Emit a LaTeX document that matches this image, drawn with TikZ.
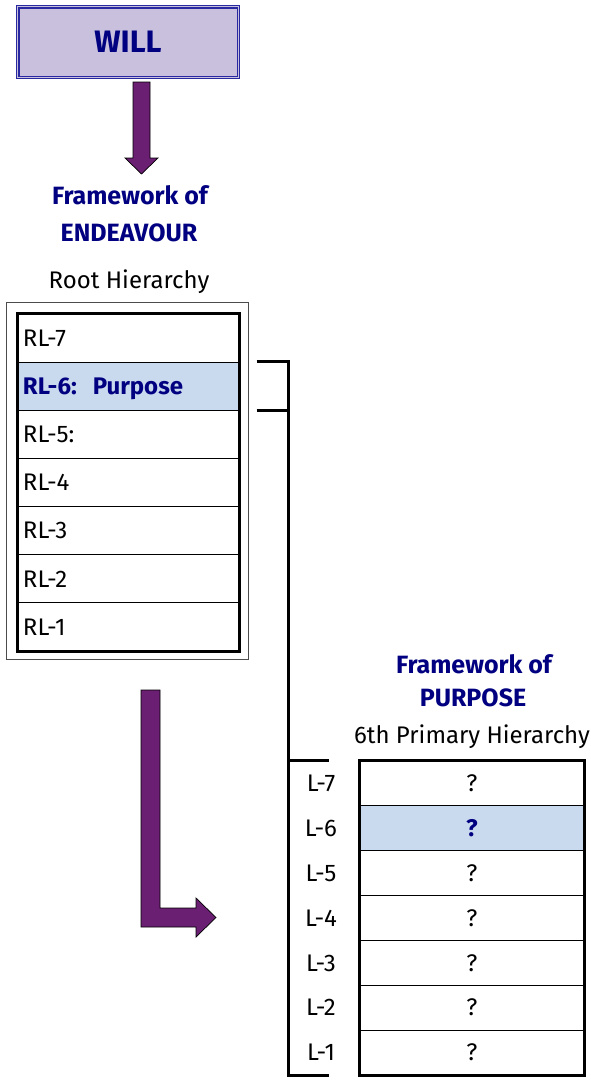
\documentclass[tikz,border=0pt]{standalone}
\usepackage{fontspec}
\setmainfont{Fira Sans}
\usetikzlibrary{calc}
\definecolor{navy}{RGB}{0,0,128}
\definecolor{willfill}{RGB}{200,192,220}
\definecolor{willline}{RGB}{40,40,160}
\definecolor{arrowpurple}{RGB}{106,31,114}
\definecolor{hilite}{RGB}{201,217,238}
\newcommand{\fsz}{\fontsize{24}{28}\selectfont}
\newcommand{\bfsz}{\bfseries\fontsize{25}{29}\selectfont}
\tikzset{
  txt/.style={inner sep=0pt, anchor=base, font=\fsz},
  ttl/.style={inner sep=0pt, anchor=base, text=navy, font=\bfsz},
  rlrow/.style={draw=black, line width=1pt, minimum width=221pt, minimum height=48.14pt,
    text width=211pt, align=left, inner xsep=5pt, inner ysep=0pt, text height=16.5pt, text depth=0pt,
    font=\fsz},
  lrow/.style={draw=black, line width=1pt, minimum width=224pt, minimum height=44.86pt,
    inner sep=0pt, text height=16.5pt, text depth=0pt, font=\fsz},
  lab/.style={inner sep=0pt, text height=16.5pt, text depth=0pt, font=\fsz},
  bigarrow/.style={fill=arrowpurple, draw=black, line width=0.7pt, line join=miter},
  brk/.style={line width=2.6pt, black}
}
\begin{document}
\begin{tikzpicture}[x=1pt,y=-1pt]
\useasboundingbox (0,0) rectangle (590,1084);
\fill[white] (0,0) rectangle (590,1084);

% WILL box
\node[draw=willline, line width=1.2pt, fill=willfill, minimum width=223pt, minimum height=73pt,
      inner sep=0pt, text=navy, font=\bfseries\fontsize{31}{35}\selectfont] (will) at (128,42) {WILL};
\draw[willline, line width=1.2pt] ([shift={(3,3)}]will.north west) rectangle ([shift={(-3,-3)}]will.south east);

% down arrow
\draw[bigarrow] (133,82) -- (150,82) -- (150,158) -- (158,158) -- (141.5,174) -- (125,158) -- (133,158) -- cycle;

% titles
\node[ttl] (fe1) at (130,204) {Framework of};
\node[ttl] (fe2) at (129,241) {ENDEAVOUR};
\node[txt] (rh) at (129,288) {Root Hierarchy};

% root hierarchy rows
\foreach \k/\t in {0/RL-7,2/RL-5:,3/RL-4,4/RL-3,5/RL-2,6/RL-1}{
  \node[rlrow] (rl\k) at (128.5,{314+48.14*(\k+0.5)}) {\t};
}
\node[rlrow, fill=hilite, text=navy, font=\bfseries\fsz] (rl1) at (128.5,{314+48.14*1.5}) {RL-6:\ \ Purpose};
\draw[line width=3pt] (rl0.north west) rectangle (rl6.south east);
\draw[black!70, line width=1pt] ([shift={(-11,-11)}]rl0.north west) rectangle ([shift={(9,8)}]rl6.south east);

% bottom titles
\node[ttl] (fp1) at (474,673) {Framework of};
\node[ttl] (fp2) at (473,706) {PURPOSE};
\node[txt] (ph) at (472,743) {6th Primary Hierarchy};

% primary hierarchy rows
\foreach \k/\n in {0/7,2/5,3/4,4/3,5/2,6/1}{
  \node[lrow] (p\k) at (472,{761+44.86*(\k+0.5)}) {?};
  \node[lab] (l\k) at (321,{761+44.86*(\k+0.5)}) {L-\n};
}
\node[lrow, fill=hilite, text=navy, font=\bfseries\fsz] (p1) at (472,{761+44.86*1.5}) {?};
\node[lab] (l1) at (321,{761+44.86*1.5}) {L-6};
\draw[line width=3.5pt] (p0.north west) rectangle (p6.south east);

% bracket
\coordinate (b1) at ($(rl1.north east)+(17,0)$);
\coordinate (b2) at ($(rl1.south east)+(17,0)$);
\coordinate (bx) at ($(b1)+(32,0)$);
\coordinate (c1) at ($(p0.north west)+(-31,0)$);
\coordinate (c2) at ($(p6.south west)+(-31,0)$);
\draw[brk] (b1) -- (bx) -- (bx |- c2) -- (c2);
\draw[brk] (b2) -- (bx |- b2);
\draw[brk] (bx |- c1) -- (c1);

% L-shaped arrow
\draw[bigarrow] (141,690) -- (160,690) -- (160,908) -- (196,908) -- (196,898) -- (216,917.5) -- (196,937) -- (196,927) -- (141,927) -- cycle;
\end{tikzpicture}
\end{document}
